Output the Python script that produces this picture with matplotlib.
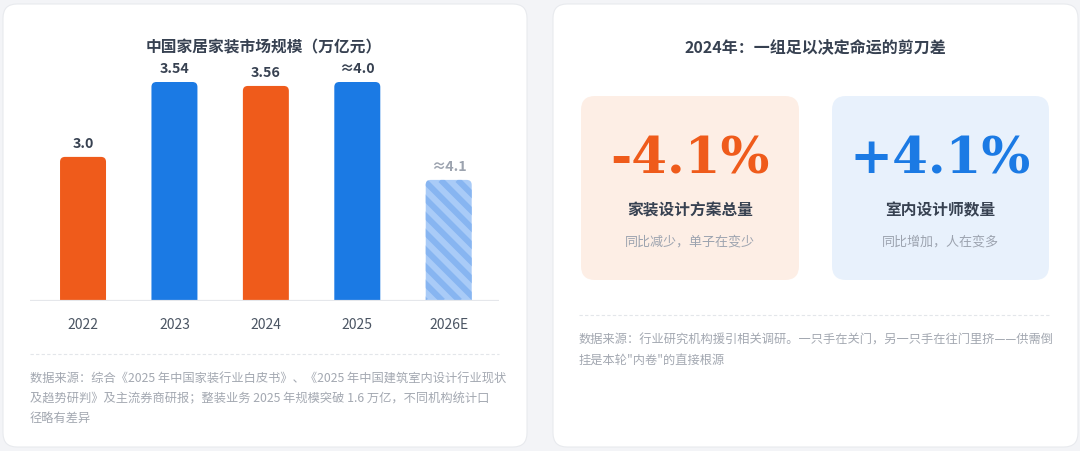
import matplotlib
matplotlib.use("Agg")
import matplotlib.pyplot as plt
from matplotlib.patches import FancyBboxPatch, PathPatch
from matplotlib.path import Path

plt.rcParams['font.family'] = ['Noto Sans CJK SC', 'DejaVu Sans']

# data
years = ['2022', '2023', '2024', '2025', '2026E']
value_labels = ['3.0', '3.54', '3.56', '≈4.0', '≈4.1']
bar_height_pct = [65.8, 100, 98.2, 100, 55.3]   # drawn bar heights, % of tallest
is_estimate = [False, False, False, False, True]

left_title = '中国家居家装市场规模（万亿元）'
left_source = ['数据来源：综合《2025 年中国家装行业白皮书》、《2025 年中国建筑室内设计行业现状',
               '及趋势研判》及主流券商研报；整装业务 2025 年规模突破 1.6 万亿，不同机构统计口',
               '径略有差异']

right_title = '2024年：一组足以决定命运的剪刀差'
kpi_values = ['-4.1%', '+4.1%']
kpi_names = ['家装设计方案总量', '室内设计师数量']
kpi_notes = ['同比减少，单子在变少', '同比增加，人在变多']
right_source = ['数据来源：行业研究机构援引相关调研。一只手在关门，另一只手在往门里挤——供需倒',
                '挂是本轮"内卷"的直接根源']

ORANGE = '#ef5b1b'
BLUE = '#1b7ae4'
DARK = '#374151'
GRAY = '#9ca3af'
bar_colors = [ORANGE, BLUE, ORANGE, BLUE, '#a9cbf7']
STRIPE = '#87b5f1'

W, H = 1080, 451
fig = plt.figure(figsize=(W / 100, H / 100), dpi=100)
fig.patch.set_facecolor('#f3f4f7')

# background axes in pixel coordinates
bg = fig.add_axes([0, 0, 1, 1])
bg.set_xlim(0, W)
bg.set_ylim(H, 0)
bg.axis('off')


def card(x0, y0, x1, y1, color, r, edge='none'):
    bg.add_patch(FancyBboxPatch((x0, y0), x1 - x0, y1 - y0,
                                boxstyle=f'round,pad=0,rounding_size={r}',
                                facecolor=color, edgecolor=edge, lw=0.8))


card(3, 4, 527, 447, 'white', 14, edge='#e8eaee')
card(553, 4, 1078, 447, 'white', 14, edge='#e8eaee')

# left card texts
bg.text(264, 47, left_title, ha='center', va='center', fontsize=11.3,
        color=DARK, fontweight='bold')
bg.plot([30, 499], [354, 354], color='#e3e6ea', lw=0.8, ls=(0, (3, 2)))
for i, line in enumerate(left_source):
    bg.text(30, 379 + i * 19.8, line, ha='left', va='center', fontsize=8.8, color='#a3a8b1')

# right card
bg.text(815, 47, right_title, ha='center', va='center', fontsize=11.5,
        color=DARK, fontweight='bold')
boxes = [(581, 799, '#fdeee5', ORANGE), (832, 1049, '#e8f1fc', BLUE)]
for (x0, x1, fc, tc), val, name, note in zip(boxes, kpi_values, kpi_names, kpi_notes):
    card(x0, 96, x1, 280, fc, 14)
    cx = (x0 + x1) / 2
    bg.text(cx, 173, val, ha='center', va='baseline', fontsize=37, color=tc,
            fontweight='bold', family='DejaVu Serif')
    bg.text(cx, 210, name, ha='center', va='center', fontsize=11.3, color=DARK,
            fontweight='bold')
    bg.text(cx, 242, note, ha='center', va='center', fontsize=9.4, color=GRAY)
bg.plot([579, 1049], [315, 315], color='#e3e6ea', lw=0.8, ls=(0, (3, 2)))
for i, line in enumerate(right_source):
    bg.text(579, 340 + i * 20.5, line, ha='left', va='center', fontsize=8.8, color='#a3a8b1')

# bar chart axes
ax_l, ax_r, ax_b, ax_t = 30, 499, 301, 82
ax = fig.add_axes([ax_l / W, 1 - ax_b / H, (ax_r - ax_l) / W, (ax_b - ax_t) / H])
ax.set_facecolor('none')
xlo, xhi = -0.58, 4.55
ax.set_xlim(xlo, xhi)
ax.set_ylim(0, 100)
ax.axis('off')

x = list(range(len(years)))
bars = ax.bar(x, bar_height_pct, width=0.503, color=bar_colors, alpha=0)

ux = (xhi - xlo) / (ax_r - ax_l)   # data units per pixel
uy = 100 / (ax_b - ax_t)
rx, ry = 5 * ux, 5 * uy            # top corner radius 5 px
for rect, col, est in zip(bars, bar_colors, is_estimate):
    x0, w, h = rect.get_x(), rect.get_width(), rect.get_height()
    x1 = x0 + w
    verts = [(x0, 0), (x0, h - ry), (x0, h), (x0 + rx, h), (x1 - rx, h),
             (x1, h), (x1, h - ry), (x1, 0), (x0, 0)]
    codes = [Path.MOVETO, Path.LINETO, Path.CURVE3, Path.CURVE3, Path.LINETO,
             Path.CURVE3, Path.CURVE3, Path.LINETO, Path.CLOSEPOLY]
    patch = PathPatch(Path(verts, codes), facecolor=col, lw=0, zorder=2)
    ax.add_patch(patch)
    if est:
        # diagonal stripes, 17 px period, clipped to the bar
        hp = h / uy
        k = -hp
        while k < w / ux + hp:
            sx = [x0 + k * ux, x0 + (k + hp) * ux]
            sy = [h, 0]
            ln, = ax.plot(sx, sy, color=STRIPE, lw=4.3, solid_capstyle='butt', zorder=2.5)
            ln.set_clip_path(patch)
            k += 17

ax.axhline(0, color='#e5e7eb', lw=1.6, zorder=3)

for i, (h, lab, est) in enumerate(zip(bar_height_pct, value_labels, is_estimate)):
    ax.annotate(lab, (i, h), xytext=(0, 9.3), textcoords='offset points',
                ha='center', va='center', fontsize=10.3, fontweight='bold',
                color=GRAY if est else DARK, annotation_clip=False)
    ax.annotate(years[i], (i, 0), xytext=(0, -17.5), textcoords='offset points',
                ha='center', va='center', fontsize=10, color='#4b5563',
                annotation_clip=False)

fig.savefig('out.png', dpi=100, facecolor=fig.get_facecolor())
